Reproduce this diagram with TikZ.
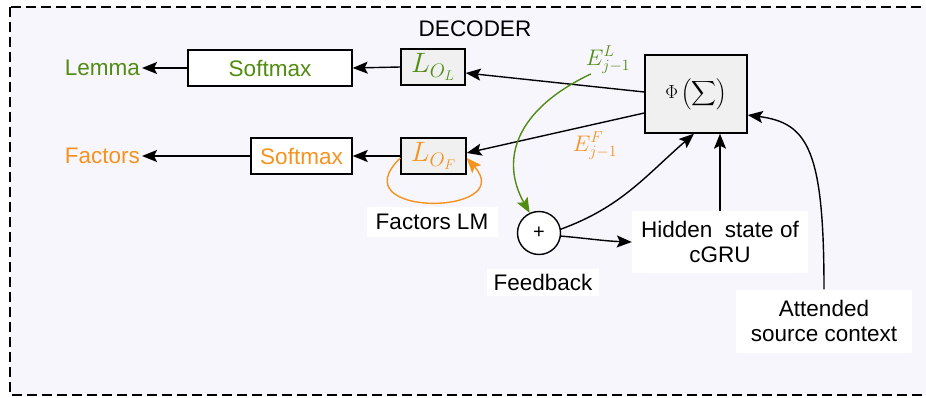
\documentclass[tikz,border=0pt]{standalone}
\usepackage{fix-cm}
\usepackage{amsmath}
\usepackage[no-math]{fontspec}
\setmainfont{Liberation Sans}
\usetikzlibrary{arrows.meta}

\definecolor{lemmagreen}{RGB}{82,140,18}
\definecolor{factorange}{RGB}{246,146,30}
\definecolor{panelbg}{RGB}{248,246,253}
\definecolor{boxgray}{RGB}{239,240,239}

\begin{document}
\begin{tikzpicture}[x=1pt,y=-1pt,
  every node/.style={font=\fontsize{22.5}{25}\selectfont},
  box/.style={draw, line width=1.4pt, inner sep=0pt, minimum height=36pt},
  lbox/.style={fill=white, inner sep=0pt, align=center},
  tip/.style={-{Stealth[length=15pt,width=12pt,inset=3pt]}},
  arr/.style={line width=1.4pt, tip},
]
\clip (0,0) rectangle (926,398);
\fill[white] (0,0) rectangle (926,398);
% decoder panel
\draw[fill=panelbg, dash pattern=on 10pt off 5pt, line width=2pt] (10,7) rectangle (940,395);
\node (dec) at (475,29) {DECODER};

% output blocks
\node[box, fill=boxgray, minimum width=102pt, minimum height=78pt] (phi) at (696,94)
  {\fontsize{19}{22}\selectfont$\displaystyle\Phi\left(\sum\right)$};
\node[box, fill=boxgray, minimum width=64pt, text=lemmagreen] (lol) at (433,67)
  {\fontsize{28}{30}\selectfont$L_{O_L}$};
\node[box, fill=boxgray, minimum width=65pt, text=factorange] (lof) at (433.5,156)
  {\fontsize{28}{30}\selectfont$L_{O_F}$};
\node[box, fill=white, minimum width=164pt, text=lemmagreen] (smL) at (270,68) {Softmax};
\node[box, fill=white, minimum width=101pt, text=factorange] (smF) at (301.5,156) {Softmax};
\node[anchor=east, inner sep=2pt, text=lemmagreen] (lemma) at (142,68) {Lemma};
\node[anchor=east, inner sep=2pt, text=factorange] (factors) at (142,156) {Factors};

% inputs
\node[draw, circle, line width=1.4pt, minimum size=43pt, inner sep=0pt, fill=white] (plus) at (539,233)
  {\fontsize{20}{22}\selectfont +};
\node[lbox, minimum width=131pt, minimum height=29pt] (flm) at (432,222) {Factors LM};
\node[lbox, minimum width=112pt, minimum height=27pt] (fb) at (543,282) {Feedback};
\node[lbox, minimum width=176pt, minimum height=62pt] (hid) at (720,242) {Hidden\ \ state of\\cGRU};
\node[lbox, minimum width=176pt, minimum height=63pt] (att) at (824,321) {Attended\\source context};

% embedding labels
\node[text=lemmagreen, inner sep=0pt] (EL) at (608,60) {$E^{L}_{j-1}$};
\node[text=factorange, inner sep=0pt] (EF) at (595,146) {$E^{F}_{j-1}$};

% connectors
\draw[arr] ([yshift=2pt]phi.west) -- ([yshift=-6pt]lol.east);
\draw[arr] ([yshift=-19pt]phi.west) -- ([yshift=3pt]lof.east);
\draw[arr] (lol.west) -- (smL.east);
\draw[arr] (smL.west) -- (lemma.east);
\draw[arr] (lof.west) -- (smF.east);
\draw[arr] (smF.west) -- (factors.east);
\draw[arr, factorange] ([yshift=-2pt]lof.west)
  .. controls +(-62,60) and +(52,58) .. ([yshift=-2pt]lof.east);
\draw[arr, lemmagreen] ([xshift=5pt]EL.south west)
  .. controls (515,110) and (500,160) .. (plus.115);
\draw[arr] (plus.-8) to[out=-5, in=178] (hid.west);
\draw[arr] (plus.10) to[out=20, in=-139] ([xshift=-2pt]phi.south);
\draw[arr] (hid.north) -- (hid.north |- phi.south);
\draw[arr] (att.north) .. controls +(0,-140) and +(60,8) .. ([yshift=-21pt]phi.east);
\end{tikzpicture}
\end{document}
